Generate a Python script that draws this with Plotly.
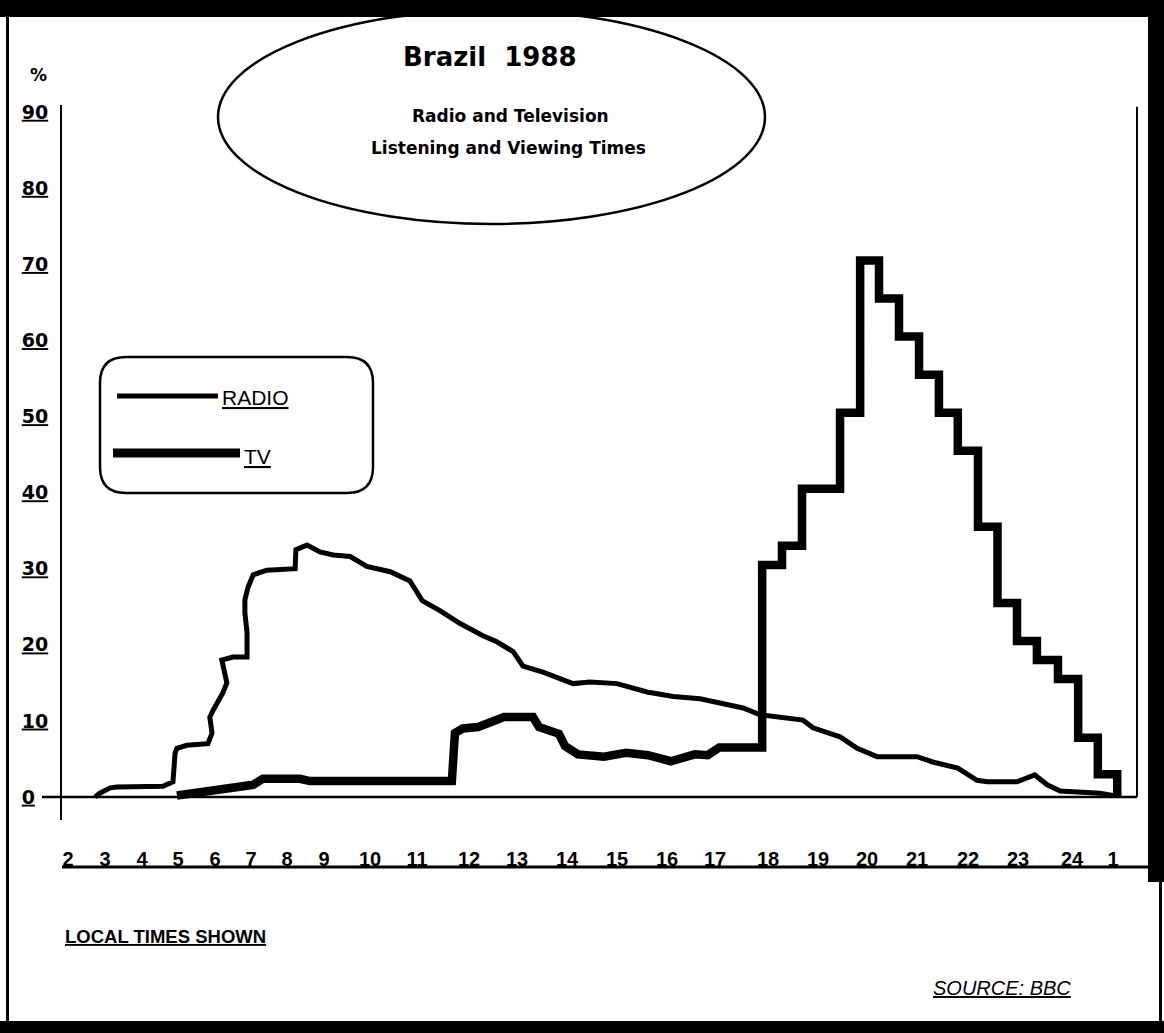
import numpy as np
import plotly.graph_objects as go

# ---------------- data (hours on the typed local-time rule, percent) ----------------
TICK_HOURS = [2, 3, 4, 5, 6, 7, 8, 9, 10, 11, 12, 13, 14, 15, 16, 17, 18, 19, 20, 21, 22, 23, 24, 25, 26]
TICK_TEXT = ["2", "3", "4", "5", "6", "7", "8", "9", "10", "11", "12", "13", "14", "15", "16",
             "17", "18", "19", "20", "21", "22", "23", "24", "1", "2"]
# where each hour label sits along the hand-typed (uneven) time rule
TICK_POS = [68, 105, 142, 178, 215, 251, 287, 324, 370, 417, 469, 517, 567, 617, 667,
            715, 768, 818, 867, 917, 968, 1018, 1072, 1113, 1160]

RADIO_HOURS = [2.73, 2.86, 3.14, 3.32, 4.58, 4.86, 4.92, 4.97, 5.24, 5.81, 5.92, 5.86, 5.95, 6.22,
               6.33, 6.25, 6.19, 6.5, 6.89, 6.89, 6.83, 6.83, 6.92, 7.06, 7.44, 8.22, 8.24, 8.54,
               8.89, 9.2, 9.57, 9.93, 10.43, 10.85, 11.1, 11.44, 11.83, 12.29, 12.58, 12.92, 13.12,
               13.52, 14.12, 14.46, 15.0, 15.6, 16.13, 16.69, 17.04, 17.53, 17.85, 18.24, 18.7,
               18.9, 19.45, 19.8, 20.2, 21.0, 21.31, 21.8, 22.18, 22.38, 22.98, 23.31, 23.54,
               23.78, 24.12, 24.68, 25.0]
RADIO_PCT = [0, 0.5, 1.2, 1.3, 1.4, 2.0, 5.8, 6.4, 6.8, 7.0, 8.4, 10.5, 11.4, 13.7,
             15.0, 16.7, 18.0, 18.4, 18.4, 21.6, 24.2, 25.9, 27.6, 29.2, 29.8, 30.0, 32.5, 33.1,
             32.2, 31.8, 31.6, 30.3, 29.6, 28.4, 25.8, 24.5, 22.8, 21.2, 20.4, 19.1, 17.2,
             16.4, 14.9, 15.1, 14.9, 13.8, 13.2, 12.9, 12.4, 11.7, 10.8, 10.4, 10.1,
             9.1, 7.9, 6.4, 5.3, 5.3, 4.6, 3.8, 2.2, 2.0, 2.0, 2.9, 1.6,
             0.8, 0.7, 0.5, 0.2]

TV_DAY_HOURS = [4.97, 5.59, 6.5, 7.06, 7.33, 8.35, 8.62, 11.67, 11.73, 11.88, 12.19, 12.56, 12.73,
                13.32, 13.44, 13.84, 13.96, 14.22, 14.74, 15.18, 15.62, 16.08, 16.58, 16.85,
                17.08, 17.85, 17.89]
TV_DAY_PCT = [0.2, 0.6, 1.1, 1.6, 2.4, 2.4, 2.1, 2.1, 8.4, 9.0, 9.2, 9.9, 10.5,
              10.5, 9.2, 8.3, 6.7, 5.6, 5.3, 5.8, 5.5, 4.7, 5.6, 5.5,
              6.5, 6.5, 6.5]
# evening block: constant audience between successive edges
TV_STEP_EDGES = [17.89, 18.28, 18.68, 19.45, 19.86, 20.24, 20.64, 21.04, 21.43, 21.8, 22.2,
                 22.59, 22.98, 23.35, 23.74, 24.15, 24.63, 25.09]
TV_STEP_PCT = [30.5, 33, 40.5, 50.5, 70.5, 65.5, 60.5, 55.5, 50.5, 45.5, 35.5, 25.5, 20.5,
               18, 15.5, 7.8, 3]

Y_TICKS = [0, 10, 20, 30, 40, 50, 60, 70, 80, 90]

# ---------------- build series ----------------
def rule(h):
    return np.interp(h, TICK_HOURS, TICK_POS)

tv_h = list(TV_DAY_HOURS)
tv_v = list(TV_DAY_PCT)
for i, lev in enumerate(TV_STEP_PCT):
    tv_h += [TV_STEP_EDGES[i], TV_STEP_EDGES[i + 1]]
    tv_v += [lev, lev]
tv_h.append(TV_STEP_EDGES[-1])
tv_v.append(0)

# ---------------- page geometry (pixels) ----------------
W, H = 1164, 1033
L, R, T, B = 62, 1137, 105, 820
PX_PER_UNIT = 7.61
ZERO_PY = 797
Y_RANGE = [-(B - ZERO_PY) / PX_PER_UNIT, (ZERO_PY - T) / PX_PER_UNIT]


def X(px):
    return (px - L) / (R - L)


def Y(py):
    return (B - py) / (B - T)


fig = go.Figure()
fig.add_trace(go.Scatter(x=rule(RADIO_HOURS), y=RADIO_PCT, mode="lines", name="RADIO",
                         line=dict(color="black", width=5), hoverinfo="skip"))
fig.add_trace(go.Scatter(x=rule(tv_h), y=tv_v, mode="lines", name="TV",
                         line=dict(color="black", width=8.5), hoverinfo="skip"))

shapes = []
black = "black"
# frame of the page
shapes.append(dict(type="rect", xref="paper", yref="paper", x0=X(-5), x1=X(1170), y0=Y(-5), y1=Y(17),
                   fillcolor=black, line=dict(width=0), layer="above"))
shapes.append(dict(type="rect", xref="paper", yref="paper", x0=X(6), x1=X(9), y0=Y(0), y1=Y(1033),
                   fillcolor=black, line=dict(width=0)))
shapes.append(dict(type="rect", xref="paper", yref="paper", x0=X(1148), x1=X(1170), y0=Y(0), y1=Y(882),
                   fillcolor=black, line=dict(width=0)))
shapes.append(dict(type="rect", xref="paper", yref="paper", x0=X(1159), x1=X(1162), y0=Y(882), y1=Y(1033),
                   fillcolor=black, line=dict(width=0)))
shapes.append(dict(type="rect", xref="paper", yref="paper", x0=X(-5), x1=X(1170), y0=Y(1021), y1=Y(1040),
                   fillcolor=black, line=dict(width=0)))
# zero line and right edge of plotting area
shapes.append(dict(type="line", xref="paper", yref="y", x0=X(42), x1=1, y0=0, y1=0,
                   line=dict(color=black, width=2.5)))
shapes.append(dict(type="line", xref="paper", yref="y", x0=1, x1=1, y0=0, y1=90.7,
                   line=dict(color=black, width=2)))
# rule under the hour labels
shapes.append(dict(type="line", xref="paper", yref="paper", x0=X(62), x1=X(1150), y0=Y(867), y1=Y(867),
                   line=dict(color=black, width=3)))
# title ellipse
shapes.append(dict(type="circle", xref="paper", yref="paper", x0=X(218), x1=X(765), y0=Y(224), y1=Y(10),
                   line=dict(color=black, width=2.5), layer="below"))
# legend rounded box
bx0, bx1, by0, by1, rr = 100, 373, 357, 493, 26
p = (f"M {X(bx0 + rr)} {Y(by0)} L {X(bx1 - rr)} {Y(by0)} Q {X(bx1)} {Y(by0)} {X(bx1)} {Y(by0 + rr)} "
     f"L {X(bx1)} {Y(by1 - rr)} Q {X(bx1)} {Y(by1)} {X(bx1 - rr)} {Y(by1)} "
     f"L {X(bx0 + rr)} {Y(by1)} Q {X(bx0)} {Y(by1)} {X(bx0)} {Y(by1 - rr)} "
     f"L {X(bx0)} {Y(by0 + rr)} Q {X(bx0)} {Y(by0)} {X(bx0 + rr)} {Y(by0)} Z")
shapes.append(dict(type="path", xref="paper", yref="paper", path=p, line=dict(color=black, width=2.5)))
shapes.append(dict(type="line", xref="paper", yref="paper", x0=X(117), x1=X(218), y0=Y(396), y1=Y(396),
                   line=dict(color=black, width=5)))
shapes.append(dict(type="line", xref="paper", yref="paper", x0=X(113), x1=X(240), y0=Y(453), y1=Y(453),
                   line=dict(color=black, width=9)))

annotations = []


def note(text, px, py, size, family, xanchor="center", yanchor="middle", weight="normal", style="normal"):
    annotations.append(dict(text=text, x=X(px), y=Y(py), xref="paper", yref="paper",
                            xanchor=xanchor, yanchor=yanchor, showarrow=False,
                            font=dict(size=size, family=family, color=black, weight=weight, style=style)))


note("Brazil  1988", 490, 57, 26, "DejaVu Sans", weight="bold")
note("Radio and Television", 510, 116, 17, "DejaVu Sans", weight="bold")
note("Listening and Viewing Times", 508, 148, 17, "DejaVu Sans", weight="bold")
note("%", 38, 75, 17, "DejaVu Sans", weight="bold")
note("<u>RADIO</u>", 220, 398, 21, "Liberation Sans", xanchor="left")
note("<u>TV</u>", 242, 456, 21, "Liberation Sans", xanchor="left")
note("<u>LOCAL TIMES SHOWN</u>", 63, 936, 18.5, "Liberation Sans", xanchor="left", weight="bold")
note("<u>SOURCE: BBC</u>", 1073, 988, 20, "Liberation Sans", xanchor="right", style="italic")

fig.update_layout(
    width=W, height=H, autosize=False,
    margin=dict(l=L, r=W - R, t=T, b=H - B, pad=0),
    paper_bgcolor="white", plot_bgcolor="white",
    showlegend=False,
    shapes=shapes, annotations=annotations,
    xaxis=dict(range=[L, R], tickmode="array", tickvals=TICK_POS, ticktext=TICK_TEXT,
               showgrid=False, zeroline=False, showline=False, ticks="",
               tickfont=dict(family="Liberation Sans", size=20, color=black, weight="bold"),
               ticklabelstandoff=25, fixedrange=True),
    yaxis=dict(range=Y_RANGE, tickmode="array", tickvals=Y_TICKS,
               ticktext=[f"<u>{v}</u>" + ("\u2007" if v < 10 else "") for v in Y_TICKS],
               showgrid=False, zeroline=False, showline=True, linecolor=black, linewidth=2,
               ticks="", tickfont=dict(family="DejaVu Sans", size=19, color=black, weight="bold"),
               ticklabelstandoff=8, fixedrange=True),
)

fig.write_html("out.html", config={"displayModeBar": False, "staticPlot": True},
               post_script="document.body.style.margin='0';document.body.style.overflow='hidden';")
